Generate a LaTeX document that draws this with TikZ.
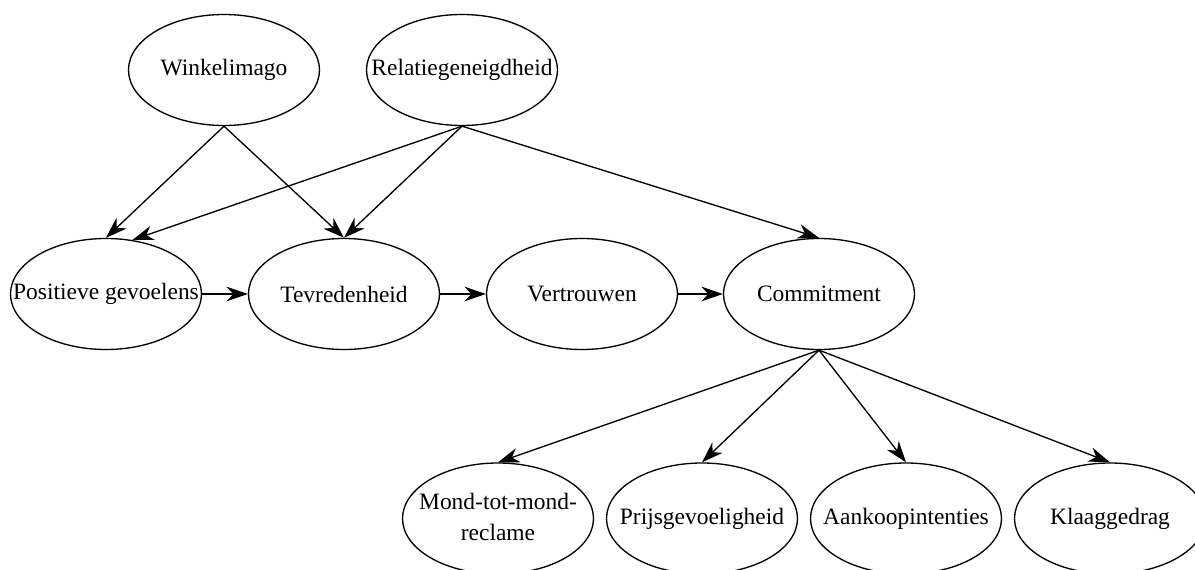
\documentclass[tikz,border=0pt]{standalone}
\usepackage{fontspec}
\setmainfont{LiberationSerif}[Extension=.ttf,UprightFont=*-Regular,BoldFont=*-Bold,ItalicFont=*-Italic,BoldItalicFont=*-BoldItalic]
\usetikzlibrary{shapes.geometric,arrows.meta}
\newcommand\ntxt[1]{\makebox[0pt]{#1}}
\begin{document}
\begin{tikzpicture}[x=0.75pt,y=-0.75pt,
  ell/.style={ellipse, draw, line width=1pt, minimum width=143.25pt, minimum height=83.25pt, inner sep=0pt, font=\fontsize{17.6}{23.25}\selectfont},
  arr/.style={line width=1pt, -{Stealth[length=16pt,width=11pt,inset=5pt]}}]
\useasboundingbox (0,0) rectangle (1195,570);
\clip (0,0) rectangle (1195,570);
% top row
\node[ell] (win) at (224,70) {\ntxt{Winkelimago}};
\node[ell] (rel) at (462,70) {\ntxt{Relatiegeneigdheid}};
% middle row
\node[ell] (pos) at (106,294) {\ntxt{Positieve gevoelens}};
\node[ell] (tev) at (344,294) {\ntxt{Tevredenheid}};
\node[ell] (ver) at (582,294) {\ntxt{Vertrouwen}};
\node[ell] (com) at (819,294) {\ntxt{Commitment}};
% bottom row
\node[ell] (mon) at (498,518.5) {\ntxt{\begin{tabular}{@{}c@{}}Mond-tot-mond-\\reclame\end{tabular}}};
\node[ell] (pri) at (702,518.5) {\ntxt{Prijsgevoeligheid}};
\node[ell] (aan) at (906,518.5) {\ntxt{Aankoopintenties}};
\node[ell] (kla) at (1110,518.5) {\ntxt{Klaaggedrag}};
% connectors
\draw[arr] (win.south) -- (pos.north);
\draw[arr] (win.south) -- (tev.north);
\draw[arr] (rel.south) -- (pos.64);
\draw[arr] (rel.south) -- (tev.north);
\draw[arr] (rel.south) -- (com.north);
\draw[arr] (pos.east) -- (tev.west);
\draw[arr] (tev.east) -- (ver.west);
\draw[arr] (ver.east) -- (com.west);
\draw[arr] (com.south) -- (mon.north);
\draw[arr] (com.south) -- (pri.north);
\draw[arr] (com.south) -- (aan.north);
\draw[arr] (com.south) -- (kla.north);
\end{tikzpicture}
\end{document}
